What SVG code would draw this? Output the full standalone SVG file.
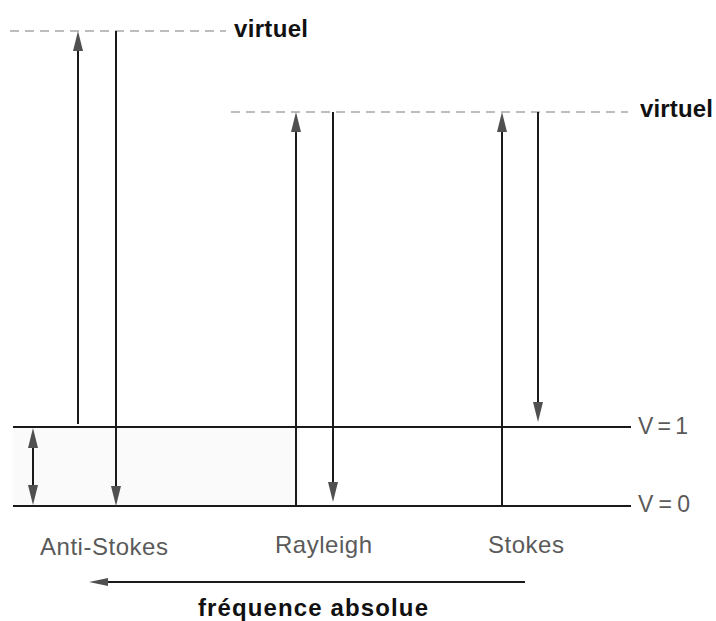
<svg xmlns="http://www.w3.org/2000/svg" width="716" height="621" viewBox="0 0 716 621">
  <style>
    .level { stroke: #1a1a1a; stroke-width: 2; fill: none; }
    .virt { stroke: #a8a8a8; stroke-width: 1.5; stroke-dasharray: 9 6; fill: none; }
    .tr { stroke: #1a1a1a; stroke-width: 2; fill: none; }
    .head { fill: #505050; }
    .lbl { font-family: "Liberation Sans", Arial, sans-serif; font-size: 24px; fill: #5a5a5a; }
    .lv { font-family: "Liberation Sans", Arial, sans-serif; font-size: 23px; fill: #5a5a5a; }
    .bold { font-family: "Liberation Sans", Arial, sans-serif; font-size: 24px; font-weight: bold; fill: #111; }
  </style>
  <defs>
    <!-- tapered arrowheads, tip at origin -->
    <path id="hu" class="head" d="M0,0 L5,20 L-5,20 Z"/>
    <path id="hd" class="head" d="M0,0 L5,-20 L-5,-20 Z"/>
  </defs>
  <rect width="716" height="621" fill="#fff"/>

  <!-- band between vibrational levels -->
  <rect x="13" y="427" width="287" height="79" fill="#fafafa"/>

  <g id="levels">
    <line class="virt" x1="10" y1="31" x2="226" y2="31"/>
    <line class="virt" x1="231" y1="112" x2="628" y2="112"/>
    <line class="level" x1="13" y1="427" x2="631" y2="427"/>
    <line class="level" x1="13" y1="506" x2="631" y2="506"/>
  </g>

  <g id="labels">
    <text class="bold" x="234" y="37" textLength="74" lengthAdjust="spacing">virtuel</text>
    <text class="bold" x="640" y="117" textLength="73" lengthAdjust="spacing">virtuel</text>
    <text class="lv" x="638" y="434" textLength="50" lengthAdjust="spacing">V=1</text>
    <text class="lv" x="638" y="512" textLength="52" lengthAdjust="spacing">V=0</text>
    <text class="lbl" x="40" y="555" textLength="128" lengthAdjust="spacing">Anti-Stokes</text>
    <text class="lbl" x="275" y="553" textLength="97" lengthAdjust="spacing">Rayleigh</text>
    <text class="lbl" x="488" y="553" textLength="76" lengthAdjust="spacing">Stokes</text>
    <text class="bold" x="198" y="616" textLength="230" lengthAdjust="spacing">fréquence absolue</text>
  </g>

  <g id="connectors">
    <!-- Anti-Stokes -->
    <line class="tr" x1="78" y1="424" x2="78" y2="45"/>
    <use href="#hu" x="78" y="31"/>
    <line class="tr" x1="116" y1="31" x2="116" y2="490"/>
    <use href="#hd" x="116" y="506"/>
    <!-- Rayleigh -->
    <line class="tr" x1="296" y1="506" x2="296" y2="126"/>
    <use href="#hu" x="296" y="112"/>
    <line class="tr" x1="333" y1="112" x2="333" y2="486"/>
    <use href="#hd" x="333" y="502"/>
    <!-- Stokes -->
    <line class="tr" x1="502" y1="506" x2="502" y2="126"/>
    <use href="#hu" x="502" y="112"/>
    <line class="tr" x1="538" y1="112" x2="538" y2="406"/>
    <use href="#hd" x="538" y="422"/>
    <!-- vibrational gap -->
    <line class="tr" x1="33" y1="440" x2="33" y2="492"/>
    <use href="#hu" x="33" y="428"/>
    <use href="#hd" x="33" y="505"/>
    <!-- frequency axis -->
    <line class="tr" x1="525" y1="582" x2="104" y2="582" stroke="#333"/>
    <path class="head" d="M89,582 L108,578 L108,586 Z"/>
  </g>
</svg>
